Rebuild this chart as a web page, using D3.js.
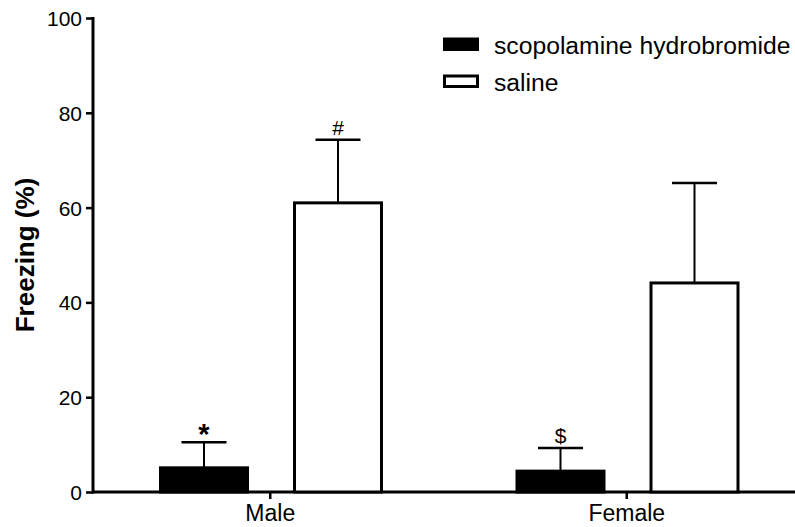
<!DOCTYPE html>
<html>
<head>
<meta charset="utf-8">
<script src="https://cdn.jsdelivr.net/npm/d3@7"></script>
<style>
  body { margin: 0; background: #fff; }
  text { font-family: Arial, "Liberation Sans", sans-serif; fill: #000; }
</style>
</head>
<body>
<div id="chart"></div>
<script>
var width = 795;
var height = 527;

// data
var groups = ['Male', 'Female'];
var series = ['scopolamine hydrobromide', 'saline'];
var scopMean = [5.1, 4.4];
var scopErr = [10.5, 9.3];
var salineMean = [61.0, 44.1];
var salineErr = [74.3, 65.2];
var marks = ['*', '#', '$', ''];   // Male scop, Male saline, Female scop, Female saline
var yTicks = [0, 20, 40, 60, 80, 100];

var rows = [];
groups.forEach(function(g, i) {
  rows.push({group: g, s: series[0], mean: scopMean[i], top: scopErr[i], mark: marks[i * 2]});
  rows.push({group: g, s: series[1], mean: salineMean[i], top: salineErr[i], mark: marks[i * 2 + 1]});
});

var svg = d3.select('#chart').append('svg')
  .attr('width', width)
  .attr('height', height);

var x0 = d3.scaleBand()
  .domain(groups)
  .range([92, 805])
  .padding(0);

var x1 = d3.scaleBand()
  .domain(series)
  .range([67, 291])
  .paddingInner(0.3284)
  .paddingOuter(0);

var y = d3.scaleLinear()
  .domain([0, 100])
  .range([492, 18]);

// y axis
var yAxis = d3.axisLeft(y)
  .tickValues(yTicks)
  .tickSize(7)
  .tickPadding(4);

var yg = svg.append('g')
  .attr('transform', 'translate(93,0)')
  .call(yAxis);
yg.select('.domain').remove();
yg.selectAll('.tick line').attr('stroke', '#000').attr('stroke-width', 2.5);
yg.selectAll('.tick text')
  .style('font-size', '21px')
  .attr('dy', '0.36em');
yg.append('line')
  .attr('x1', 0).attr('x2', 0)
  .attr('y1', y(100) - 1).attr('y2', y(0) + 1.5)
  .attr('stroke', '#000').attr('stroke-width', 3);

// y title
svg.append('text')
  .attr('transform', 'rotate(-90)')
  .attr('x', -(y(0) + y(100)) / 2)
  .attr('y', 34)
  .style('text-anchor', 'middle')
  .style('font-size', '26px')
  .style('font-weight', 'bold')
  .text('Freezing (%)');

// x axis
var xAxis = d3.axisBottom(x0)
  .tickSize(7)
  .tickPadding(7)
  .tickSizeOuter(0);

var xg = svg.append('g')
  .attr('transform', 'translate(0,' + y(0) + ')')
  .call(xAxis);
xg.select('.domain').remove();
xg.selectAll('.tick line').attr('stroke', '#000').attr('stroke-width', 2.5);
xg.selectAll('.tick text').style('font-size', '23px').attr('dy', '0.66em');
xg.append('line')
  .attr('x1', 92).attr('x2', 795)
  .attr('y1', 0).attr('y2', 0)
  .attr('stroke', '#000').attr('stroke-width', 3);

// bars
var bars = svg.append('g');
var barGroups = bars.selectAll('g')
  .data(rows)
  .enter()
  .append('g')
  .attr('transform', d => 'translate(' + (x0(d.group) + x1(d.s)) + ',0)');

// error bars (upper only)
barGroups.append('line')
  .attr('x1', x1.bandwidth() / 2).attr('x2', x1.bandwidth() / 2)
  .attr('y1', d => y(d.mean)).attr('y2', d => y(d.top))
  .attr('stroke', '#000').attr('stroke-width', 2);
barGroups.append('line')
  .attr('x1', x1.bandwidth() / 4).attr('x2', x1.bandwidth() * 3 / 4)
  .attr('y1', d => y(d.top)).attr('y2', d => y(d.top))
  .attr('stroke', '#000').attr('stroke-width', 2.5);

barGroups.append('rect')
  .attr('x', 1.5)
  .attr('y', d => y(d.mean))
  .attr('width', x1.bandwidth() - 3)
  .attr('height', d => y(0) - y(d.mean))
  .attr('fill', d => d.s === series[0] ? '#000' : '#fff')
  .attr('stroke', '#000')
  .attr('stroke-width', 3);

// significance marks
barGroups.append('text')
  .attr('x', x1.bandwidth() / 2)
  .attr('y', d => d.mark === '*' ? y(d.top) + 2 : y(d.top) - 5)
  .style('text-anchor', 'middle')
  .style('font-size', d => d.mark === '*' ? '29px' : '21px')
  .style('font-weight', d => d.mark === '*' ? 'bold' : 'normal')
  .text(d => d.mark);

// legend
var legend = svg.append('g');
series.forEach(function(s, i) {
  var ly = 44 + i * 37;
  legend.append('rect')
    .attr('x', 444.5).attr('y', ly - 5)
    .attr('width', 33).attr('height', 10.5)
    .attr('fill', i === 0 ? '#000' : '#fff')
    .attr('stroke', '#000').attr('stroke-width', 3);
  legend.append('text')
    .attr('x', 494)
    .attr('y', ly + 10)
    .style('font-size', '24.7px')
    .text(s);
});
</script>
</body>
</html>
